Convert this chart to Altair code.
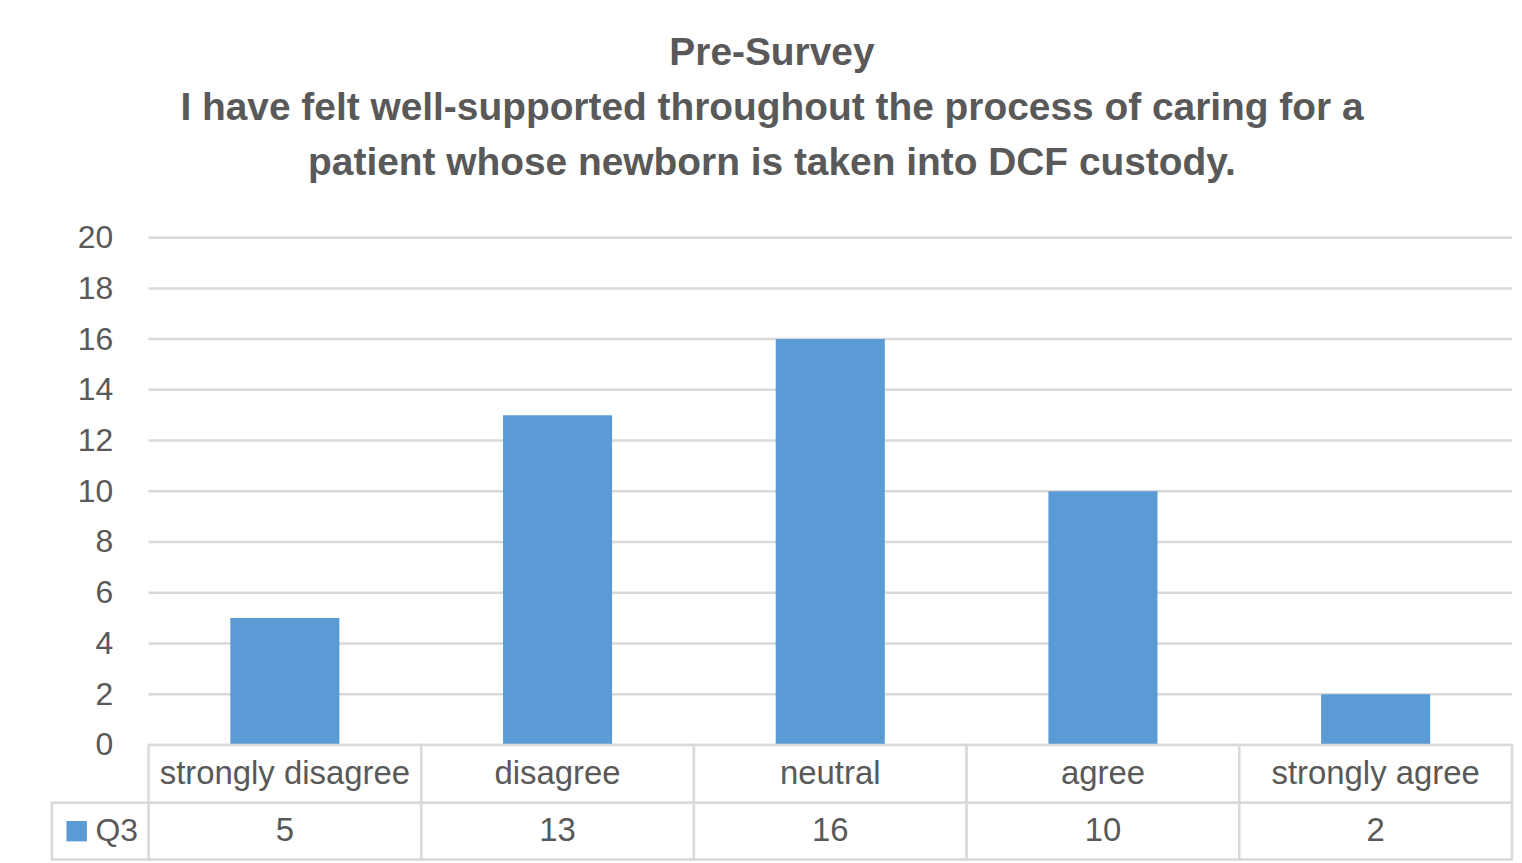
import altair as alt
import pandas as pd

# ---- data ----
categories = ["strongly disagree", "disagree", "neutral", "agree", "strongly agree"]
values = [5, 13, 16, 10, 2]
series_name = "Q3"
y_ticks = [0, 2, 4, 6, 8, 10, 12, 14, 16, 18, 20]
title_lines = [
    "Pre-Survey",
    "I have felt well-supported throughout the process of caring for a",
    "patient whose newborn is taken into DCF custody.",
]

# ---- style / layout constants ----
BAR_COLOR = "#5b9bd5"
TEXT = "#595959"
GRID = "#d9d9d9"
FONT = "Liberation Sans"
FS = 33
n = len(categories)
YMAX = 20
LEGEND_W = 0.3545     # legend column width (in category units)
ROW1 = -2.28          # table row boundary (in value units)
ROW2 = -4.52          # table bottom (in value units)
BAR_GAP = 0.3         # gap on each side of a bar within its category

x_scale = alt.Scale(domain=[-LEGEND_W, n], nice=False, zero=False)
y_scale = alt.Scale(domain=[ROW2, YMAX], nice=False, zero=False)

df = pd.DataFrame({"cat": categories, "value": values, "idx": list(range(n))})
grid_df = pd.DataFrame({"tick": y_ticks})

cells = []
for i, (c, v) in enumerate(zip(categories, values)):
    cells.append({"x0": i, "x1": i + 1, "y0": 0, "y1": ROW1})
    cells.append({"x0": i, "x1": i + 1, "y0": ROW1, "y1": ROW2})
cells.append({"x0": -LEGEND_W, "x1": 0, "y0": ROW1, "y1": ROW2})
cells_df = pd.DataFrame(cells)

legend_df = pd.DataFrame({"name": [series_name]})

grid = (
    alt.Chart(grid_df)
    .transform_calculate(gx0="0", gx1=str(n))
    .mark_rule(color=GRID, strokeWidth=2.5)
    .encode(
        x=alt.X("gx0:Q", scale=x_scale, axis=None),
        x2="gx1:Q",
        y=alt.Y(
            "tick:Q",
            scale=y_scale,
            axis=alt.Axis(
                values=y_ticks,
                title=None,
                domain=False,
                ticks=False,
                grid=False,
                offset=-67,
                labelPadding=6,
                labelFont=FONT,
                labelFontSize=32,
                labelColor=TEXT,
            ),
        ),
    )
)

bars = (
    alt.Chart(df)
    .transform_calculate(
        bx0=f"datum.idx + {BAR_GAP}", bx1=f"datum.idx + 1 - {BAR_GAP}", base="0"
    )
    .mark_bar(color=BAR_COLOR)
    .encode(
        x=alt.X("bx0:Q", scale=x_scale, axis=None),
        x2="bx1:Q",
        y=alt.Y("value:Q", scale=y_scale),
        y2="base:Q",
    )
)

table = (
    alt.Chart(cells_df)
    .mark_rect(fill="white", stroke=GRID, strokeWidth=2.5)
    .encode(
        x=alt.X("x0:Q", scale=x_scale, axis=None),
        x2="x1:Q",
        y=alt.Y("y0:Q", scale=y_scale),
        y2="y1:Q",
    )
)

cat_text = (
    alt.Chart(df)
    .transform_calculate(tx="datum.idx + 0.5", ty=f"{ROW1 / 2}")
    .mark_text(font=FONT, fontSize=FS, color=TEXT, baseline="middle", align="center")
    .encode(
        x=alt.X("tx:Q", scale=x_scale, axis=None),
        y=alt.Y("ty:Q", scale=y_scale),
        text="cat:N",
    )
)

val_text = (
    alt.Chart(df)
    .transform_calculate(tx="datum.idx + 0.5", ty=f"{(ROW1 + ROW2) / 2}")
    .mark_text(font=FONT, fontSize=FS, color=TEXT, baseline="middle", align="center")
    .encode(
        x=alt.X("tx:Q", scale=x_scale, axis=None),
        y=alt.Y("ty:Q", scale=y_scale),
        text="value:Q",
    )
)

legend_sym = (
    alt.Chart(legend_df)
    .transform_calculate(sx=f"{-LEGEND_W + 0.091}", sy=f"{(ROW1 + ROW2) / 2}")
    .mark_square(color=BAR_COLOR, opacity=1, size=420)
    .encode(
        x=alt.X("sx:Q", scale=x_scale, axis=None),
        y=alt.Y("sy:Q", scale=y_scale),
    )
)

legend_txt = (
    alt.Chart(legend_df)
    .transform_calculate(sx=f"{-LEGEND_W + 0.16}", sy=f"{(ROW1 + ROW2) / 2}")
    .mark_text(font=FONT, fontSize=32, color=TEXT, baseline="middle", align="left")
    .encode(
        x=alt.X("sx:Q", scale=x_scale, axis=None),
        y=alt.Y("sy:Q", scale=y_scale),
        text="name:N",
    )
)

chart = (
    alt.layer(grid, bars, table, cat_text, val_text, legend_sym, legend_txt)
    .properties(
        width=1465,
        height=624,
        padding={"left": 42, "top": 25, "right": 0, "bottom": 0},
        title=alt.TitleParams(
            text=title_lines,
            font=FONT,
            fontSize=39,
            fontWeight="bold",
            color=TEXT,
            lineHeight=55,
            anchor="middle",
            dx=-10,
            offset=39,
        ),
    )
    .configure_view(stroke="transparent")
)

chart.save("out.html", embed_options={"renderer": "svg", "actions": False})
